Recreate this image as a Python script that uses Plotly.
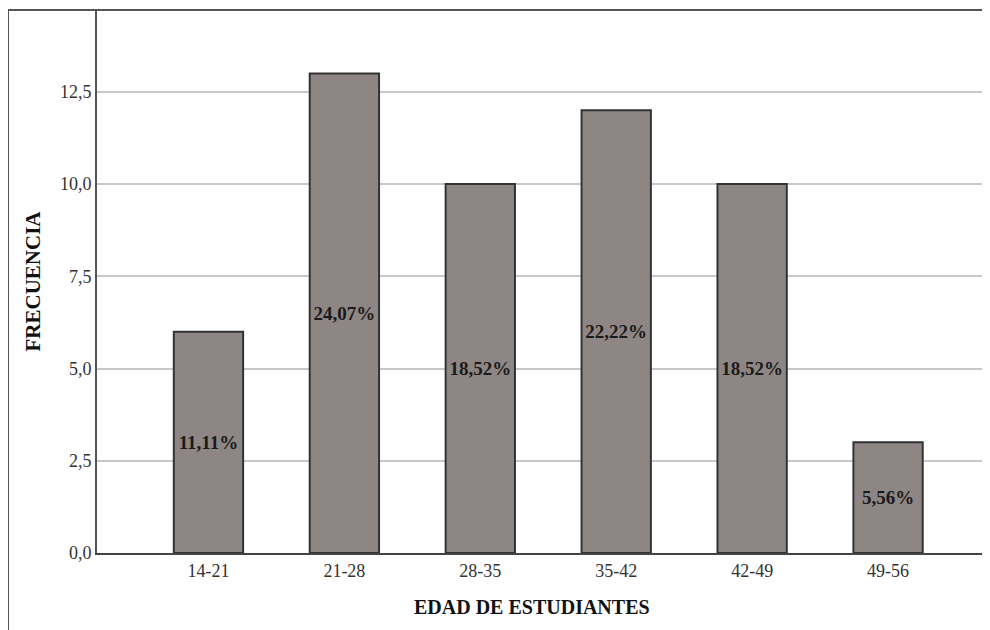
import plotly.graph_objects as go

categories = ["14-21", "21-28", "28-35", "35-42", "42-49", "49-56"]
frequencies = [6, 13, 10, 12, 10, 3]
percent_labels = ["11,11%", "24,07%", "18,52%", "22,22%", "18,52%", "5,56%"]
y_tick_values = [0, 2.5, 5, 7.5, 10, 12.5]
y_tick_labels = ["0,0", "2,5", "5,0", "7,5", "10,0", "12,5"]

serif = "Liberation Serif, Times New Roman, serif"

fig = go.Figure()
fig.add_trace(go.Bar(
    x=categories,
    y=frequencies,
    text=percent_labels,
    textposition="inside",
    insidetextanchor="middle",
    textangle=0,
    textfont=dict(family=serif, size=19, color="#1a1a1a", weight="bold"),
    marker=dict(color="#8e8684", line=dict(color="#333333", width=2)),
    width=0.51,
    cliponaxis=False,
))

L, T, R, B = 89, 2, 8, 85
pw = 990 - L - R
ph = 630 - T - B

fig.update_layout(
    width=990, height=630,
    margin=dict(l=L, r=R, t=T, b=B),
    paper_bgcolor="white", plot_bgcolor="white",
    showlegend=False,
    xaxis=dict(
        type="category",
        range=[-0.82, 5.75],
        showgrid=False,
        showline=True, linecolor="#444444", linewidth=2,
        ticks="", tickfont=dict(family=serif, size=18, color="#333333"),
    ),
    yaxis=dict(
        range=[0, 14.72],
        tickvals=y_tick_values, ticktext=y_tick_labels,
        showgrid=True, gridcolor="#c8c8c8", gridwidth=2,
        showline=True, linecolor="#555555", linewidth=2,
        zeroline=False,
        ticks="", tickfont=dict(family=serif, size=18, color="#333333"),
        title=dict(text="<b>FRECUENCIA</b>", font=dict(family=serif, size=21, color="#111111"), standoff=14),
    ),
)

fig.add_annotation(
    text="<b>EDAD DE ESTUDIANTES</b>",
    xref="paper", yref="paper",
    x=(524 - L) / pw, y=-54 / ph,
    xanchor="center", yanchor="middle",
    showarrow=False,
    font=dict(family=serif, size=20, color="#111111"),
)

# outer frame (left and top edges)
fx = (0 - L) / pw
fy_bottom = -(B + 2) / ph
fig.add_shape(type="line", xref="paper", yref="paper", x0=fx, x1=fx, y0=fy_bottom, y1=1.0,
              line=dict(color="#555555", width=2))
fig.add_shape(type="line", xref="paper", yref="paper", x0=fx, x1=1.02, y0=1.0, y1=1.0,
              line=dict(color="#555555", width=2))

fig.write_html("out.html")
